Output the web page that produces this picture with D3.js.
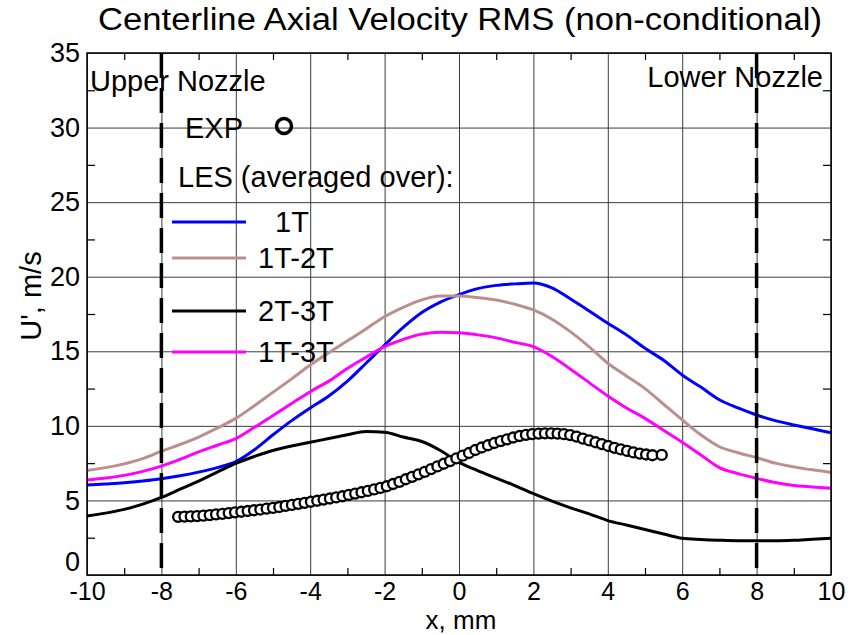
<!DOCTYPE html>
<html>
<head>
<meta charset="utf-8">
<script src="https://cdn.jsdelivr.net/npm/d3@7"></script>
<style>
  body { margin: 0; background: #fff; }
  text { font-family: "Liberation Sans", Arial, Helvetica, sans-serif; fill: #000; }
  .grid line { stroke: #3c3c3c; stroke-width: 1; }
  .grid path, .minor path, .labels path { display: none; }
  .minor line { stroke: #000; stroke-width: 1.2; }
</style>
</head>
<body>
<div class="line-plot"></div>
<script>
const WIDTH = 851, HEIGHT = 635;
const PLOT = { LEFT: 87, RIGHT: 831, TOP: 53, BOTTOM: 575 };

// tick values
const xTicks = [-10, -8, -6, -4, -2, 0, 2, 4, 6, 8, 10];
const xMinor = [-9, -7, -5, -3, -1, 1, 3, 5, 7, 9];
const yTicks = [0, 5, 10, 15, 20, 25, 30, 35];
const yMinor = [2.5, 7.5, 12.5, 17.5, 22.5, 27.5, 32.5];

// LES curves, sampled every 0.5 mm
const lesX = [-10, -9.5, -9, -8.5, -8, -7.5, -7, -6.5, -6, -5.5,
  -5, -4.5, -4, -3.5, -3, -2.5, -2, -1.5, -1, -0.5,
  0, 0.5, 1, 1.5, 2, 2.5, 3, 3.5, 4, 4.5,
  5, 5.5, 6, 6.5, 7, 7.5, 8, 8.5, 9, 9.5, 10];
const les1T = [6.03, 6.1, 6.18, 6.3, 6.45, 6.65, 6.9, 7.2, 7.6, 8.4,
  9.4, 10.35, 11.2, 12.0, 13.0, 14.2, 15.42, 16.6, 17.6, 18.3,
  18.8, 19.2, 19.42, 19.52, 19.58, 19.25, 18.5, 17.7, 16.88, 16.1,
  15.2, 14.4, 13.41, 12.6, 11.75, 11.2, 10.73, 10.35, 10.06, 9.8, 9.54];
const les1T2T = [7.0, 7.2, 7.45, 7.8, 8.3, 8.75, 9.25, 9.85, 10.5, 11.35,
  12.25, 13.15, 14.08, 14.9, 15.7, 16.5, 17.32, 17.95, 18.45, 18.7,
  18.7, 18.6, 18.44, 18.15, 17.77, 17.15, 16.3, 15.3, 14.2, 13.35,
  12.5, 11.45, 10.4, 9.4, 8.6, 8.2, 7.87, 7.5, 7.25, 7.05, 6.88];
const les2T3T = [3.96, 4.15, 4.4, 4.75, 5.2, 5.75, 6.3, 6.9, 7.49, 7.95,
  8.35, 8.65, 8.9, 9.15, 9.4, 9.62, 9.57, 9.25, 8.95, 8.35,
  7.55, 7.0, 6.5, 6.0, 5.45, 4.95, 4.5, 4.1, 3.65, 3.35,
  3.05, 2.75, 2.46, 2.38, 2.33, 2.3, 2.3, 2.3, 2.33, 2.4, 2.46];
const les1T3T = [6.37, 6.5, 6.68, 6.95, 7.3, 7.75, 8.25, 8.7, 9.15, 9.9,
  10.7, 11.5, 12.29, 13.0, 13.85, 14.6, 15.31, 15.8, 16.15, 16.28,
  16.25, 16.1, 15.9, 15.6, 15.31, 14.65, 13.8, 12.9, 12.0, 11.2,
  10.5, 9.7, 8.9, 8.05, 7.2, 6.8, 6.48, 6.2, 6.0, 5.9, 5.81];

// experiment
const expX = [-7.55, -7.38, -7.21, -7.04, -6.87, -6.70, -6.53, -6.36, -6.19, -6.02,
  -5.85, -5.68, -5.51, -5.34, -5.17, -5.00, -4.83, -4.66, -4.49, -4.32,
  -4.15, -3.98, -3.81, -3.64, -3.47, -3.30, -3.13, -2.96, -2.79, -2.62,
  -2.45, -2.28, -2.11, -1.94, -1.77, -1.60, -1.43, -1.26, -1.09, -0.92,
  -0.75, -0.58, -0.41, -0.24, -0.07, 0.10, 0.27, 0.44, 0.61, 0.78,
  0.95, 1.12, 1.29, 1.46, 1.63, 1.80, 1.97, 2.14, 2.31, 2.48,
  2.65, 2.82, 2.99, 3.16, 3.33, 3.50, 3.67, 3.84, 4.01, 4.18,
  4.35, 4.52, 4.69, 4.86, 5.03, 5.20, 5.45];
const expY = [3.90, 3.92, 3.93, 3.95, 3.98, 4.02, 4.06, 4.10, 4.15, 4.20,
  4.24, 4.29, 4.34, 4.39, 4.45, 4.50, 4.56, 4.63, 4.70, 4.77,
  4.84, 4.91, 4.98, 5.06, 5.13, 5.20, 5.28, 5.37, 5.46, 5.55,
  5.64, 5.74, 5.84, 5.95, 6.10, 6.25, 6.42, 6.58, 6.75, 6.92,
  7.10, 7.28, 7.46, 7.64, 7.82, 8.00, 8.18, 8.38, 8.55, 8.70,
  8.85, 8.98, 9.10, 9.22, 9.32, 9.40, 9.45, 9.48, 9.50, 9.50,
  9.48, 9.44, 9.38, 9.28, 9.15, 9.02, 8.90, 8.78, 8.65, 8.53,
  8.42, 8.32, 8.22, 8.14, 8.08, 8.03, 8.05];

const nozzleX = [-8, 8];

const seriesNames = ["1T", "1T-2T", "2T-3T", "1T-3T"];
const seriesColors = ["#0000ff", "#bc8f8f", "#000000", "#ff00ff"];
const seriesValues = [les1T, les1T2T, les2T3T, les1T3T];

const svg = d3.select(".line-plot").append("svg")
  .attr("width", WIDTH).attr("height", HEIGHT);

const x = d3.scaleLinear().domain([-10, 10]).range([PLOT.LEFT, PLOT.RIGHT]);
const y = d3.scaleLinear().domain([0, 35]).range([PLOT.BOTTOM, PLOT.TOP]);
const plotW = PLOT.RIGHT - PLOT.LEFT, plotH = PLOT.BOTTOM - PLOT.TOP;

// grid
svg.append("g").attr("class", "grid")
  .attr("transform", `translate(0, ${PLOT.BOTTOM})`)
  .call(d3.axisBottom(x).tickValues(xTicks).tickSize(-plotH).tickFormat(""));
svg.append("g").attr("class", "grid")
  .attr("transform", `translate(${PLOT.LEFT}, 0)`)
  .call(d3.axisLeft(y).tickValues(yTicks).tickSize(-plotW).tickFormat(""));

// minor ticks on all four sides, pointing inwards
svg.append("g").attr("class", "minor")
  .attr("transform", `translate(0, ${PLOT.BOTTOM})`)
  .call(d3.axisBottom(x).tickValues(xMinor).tickSize(-7).tickFormat(""));
svg.append("g").attr("class", "minor")
  .attr("transform", `translate(0, ${PLOT.TOP})`)
  .call(d3.axisTop(x).tickValues(xMinor).tickSize(-7).tickFormat(""));
svg.append("g").attr("class", "minor")
  .attr("transform", `translate(${PLOT.LEFT}, 0)`)
  .call(d3.axisLeft(y).tickValues(yMinor).tickSize(-8).tickFormat(""));
svg.append("g").attr("class", "minor")
  .attr("transform", `translate(${PLOT.RIGHT}, 0)`)
  .call(d3.axisRight(y).tickValues(yMinor).tickSize(-8).tickFormat(""));

// LES lines
const line = d3.line().curve(d3.curveMonotoneX);
seriesValues.forEach((vals, i) => {
  svg.append("path")
    .attr("fill", "none")
    .attr("stroke", seriesColors[i])
    .attr("stroke-width", 3)
    .attr("stroke-linejoin", "round")
    .attr("d", line(lesX.map((d, j) => [x(d), y(vals[j])])));
});

// EXP circles
svg.append("g").selectAll("circle")
  .data(expX.map((d, i) => [d, expY[i]]))
  .join("circle")
  .attr("cx", d => x(d[0]))
  .attr("cy", d => y(d[1]))
  .attr("r", 5)
  .attr("fill", "#fff")
  .attr("stroke", "#000")
  .attr("stroke-width", 2.3);

// nozzle exits
svg.append("g").selectAll("line")
  .data(nozzleX)
  .join("line")
  .attr("x1", d => x(d)).attr("x2", d => x(d))
  .attr("y1", PLOT.TOP).attr("y2", PLOT.BOTTOM)
  .attr("stroke", "#000")
  .attr("stroke-width", 3.5)
  .attr("stroke-dasharray", "25,10");

// frame
svg.append("rect")
  .attr("x", PLOT.LEFT).attr("y", PLOT.TOP)
  .attr("width", plotW).attr("height", plotH)
  .attr("fill", "none").attr("stroke", "#000").attr("stroke-width", 1.5);

// tick labels (plain hyphen minus, like the original)
svg.append("g").attr("class", "labels")
  .attr("transform", `translate(0, ${PLOT.BOTTOM})`)
  .call(d3.axisBottom(x).tickValues(xTicks).tickSize(0).tickPadding(7).tickFormat(d => String(d)))
  .call(g => g.selectAll("text").attr("font-size", 25).attr("font-family", null).attr("dy", "0.71em"));
svg.append("g").attr("class", "labels")
  .attr("transform", `translate(${PLOT.LEFT}, 0)`)
  .call(d3.axisLeft(y).tickValues(yTicks).tickSize(0).tickPadding(7).tickFormat(d => String(d)))
  .call(g => g.selectAll("text").attr("font-size", 27).attr("font-family", null))
  .call(g => g.selectAll(".tick").filter(d => d === 0).select("text").attr("dy", "-0.15em"));

// titles
svg.append("text")
  .attr("x", 98).attr("y", 30)
  .attr("font-size", 31)
  .attr("textLength", 724)
  .attr("lengthAdjust", "spacingAndGlyphs")
  .text("Centerline Axial Velocity RMS (non-conditional)");

svg.append("text")
  .attr("x", (PLOT.LEFT + PLOT.RIGHT) / 2 + 2).attr("y", 629)
  .attr("text-anchor", "middle")
  .attr("font-size", 26)
  .text("x, mm");

svg.append("text")
  .attr("transform", "translate(41, 296) rotate(-90)")
  .attr("text-anchor", "middle")
  .attr("font-size", 29)
  .text("U', m/s");

// nozzle labels
svg.append("text").attr("x", 90).attr("y", 91).attr("font-size", 29).text("Upper Nozzle");
svg.append("text").attr("x", 823).attr("y", 87).attr("text-anchor", "end")
  .attr("font-size", 29).text("Lower Nozzle");

// legend
const legend = svg.append("g");
legend.append("text").attr("x", 185).attr("y", 138).attr("font-size", 29).text("EXP");
legend.append("circle")
  .attr("cx", 284).attr("cy", 126).attr("r", 7.5)
  .attr("fill", "none").attr("stroke", "#000").attr("stroke-width", 3.5);
legend.append("text").attr("x", 178).attr("y", 187).attr("font-size", 29).text("LES (averaged over):");

const legendY = [222, 258, 311, 352];
seriesNames.forEach((name, i) => {
  legend.append("line")
    .attr("x1", 172).attr("x2", 246)
    .attr("y1", legendY[i]).attr("y2", legendY[i])
    .attr("stroke", seriesColors[i]).attr("stroke-width", 3);
  legend.append("text")
    .attr("x", i === 0 ? 275 : 258)
    .attr("y", legendY[i] + 10)
    .attr("font-size", 29)
    .text(name);
});
</script>
</body>
</html>
